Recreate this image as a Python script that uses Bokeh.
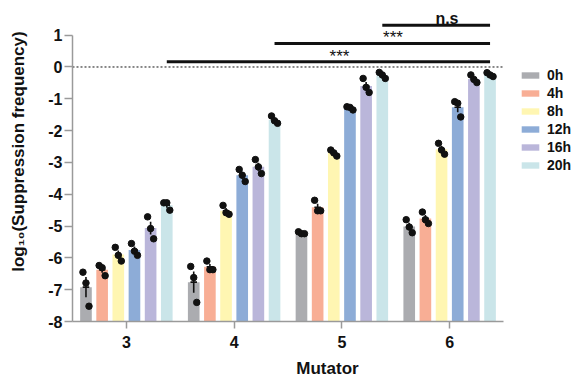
import numpy as np
from bokeh.plotting import figure
from bokeh.models import (ColumnDataSource, FixedTicker, Legend, LegendItem)
from bokeh.core.properties import value
from bokeh.embed import file_html
from bokeh.resources import INLINE

# ---------------- data ----------------
mutators = [3, 4, 5, 6]
hours = ["0h", "4h", "8h", "12h", "16h", "20h"]
colors = ["#ABACB0", "#F8AE95", "#FFF6B2", "#8DACD7", "#BAB6DA", "#CAE5E9"]
y_ticks = [-8, -7, -6, -5, -4, -3, -2, -1, 0, 1]
y_tick_labels = ["-8", "-7", "-6", "-5", "-4", "-3", "-2", "-1", "0", "1"]

# replicate log10(suppression frequency) per mutator (3, 4, 5, 6)
reps_0h = [[-6.45, -6.79, -7.52], [-6.27, -6.62, -7.40], [-5.18, -5.24, -5.24], [-4.80, -5.03, -5.21]]
reps_4h = [[-6.24, -6.31, -6.56], [-6.10, -6.37, -6.37], [-4.19, -4.52, -4.52], [-4.56, -4.80, -4.92]]
reps_8h = [[-5.67, -5.92, -6.10], [-4.35, -4.58, -4.63], [-2.61, -2.70, -2.80], [-2.40, -2.61, -2.74]]
reps_12h = [[-5.55, -5.79, -5.92], [-3.22, -3.40, -3.60], [-1.25, -1.27, -1.35], [-1.09, -1.14, -1.57]]
reps_16h = [[-4.71, -5.08, -5.40], [-2.91, -3.14, -3.35], [-0.36, -0.64, -0.80], [-0.25, -0.39, -0.49]]
reps_20h = [[-4.27, -4.27, -4.50], [-1.54, -1.69, -1.77], [-0.17, -0.25, -0.36], [-0.18, -0.25, -0.30]]
all_reps = [reps_0h, reps_4h, reps_8h, reps_12h, reps_16h, reps_20h]

# significance brackets: 20h of mutator X vs 20h of mutator 6
sig_from = [5, 4, 3]
sig_to = [6, 6, 6]
sig_text = ["n.s", "***", "***"]

# ---------------- layout / style ----------------
X_LO, X_HI = 2.5, 6.5
BAR_STEP = 0.15
BAR_W = 0.108
JIT = [-0.028, 0.0, 0.028]
SIG_Y = [1.314, 0.739, 0.163]
SIG_TEXT_Y = [1.52, 0.915, 0.335]
SIG_TEXT_DX = [0.10, 0.099, 0.103]
SIG_TEXT_SIZE = ["16px", "17px", "17px"]
FONT = "Liberation Sans"
INK = "#111111"

p = figure(width=582, height=380, x_range=(X_LO, 7.233), y_range=(-8, 2.09),
           output_backend="svg", toolbar_location=None,
           min_border_left=72, min_border_right=0, min_border_top=0, min_border_bottom=59)
p.outline_line_color = None
p.xgrid.visible = False
p.ygrid.visible = False
p.background_fill_color = None
p.border_fill_color = "white"

items = []
for i, (h, c, reps) in enumerate(zip(hours, colors, all_reps)):
    off = (i - 2.5) * BAR_STEP
    arr = np.array(reps)
    means = arr.mean(axis=1)
    sem = arr.std(axis=1, ddof=1) / np.sqrt(arr.shape[1])
    xs = [m + off for m in mutators]
    src = ColumnDataSource(dict(x=xs, top=means, lo=means - sem, hi=means + sem,
                                x0=[x - BAR_W * 0.28 for x in xs], x1=[x + BAR_W * 0.28 for x in xs]))
    r = p.vbar(x="x", top="top", bottom=-8, width=BAR_W, source=src, fill_color=c, line_color=None)
    p.segment(x0="x", y0="lo", x1="x", y1="hi", source=src, line_color=INK, line_width=1.6)
    p.segment(x0="x0", y0="top", x1="x1", y1="top", source=src, line_color=INK, line_width=1.6)
    px, py = [], []
    for gi, m in enumerate(mutators):
        for k, v in enumerate(reps[gi]):
            px.append(m + off + JIT[k])
            py.append(v)
    p.scatter(px, py, size=6.5, fill_color=INK, line_color=INK)
    items.append(LegendItem(label=h, renderers=[r]))

# dotted zero line (limited to the axis extent)
p.segment(x0=[X_LO], y0=[0], x1=[X_HI], y1=[0], line_color=INK, line_width=1, line_dash="2 2")

# significance brackets
half = 2.5 * BAR_STEP
for a, b, yv, t, ty, dx, ts in zip(sig_from, sig_to, SIG_Y, sig_text, SIG_TEXT_Y, SIG_TEXT_DX, SIG_TEXT_SIZE):
    x0, x1 = a + half, b + half
    p.segment(x0=[x0], y0=[yv], x1=[x1], y1=[yv], line_color=INK, line_width=3)
    p.text(x=[(x0 + x1) / 2 + dx], y=[ty], text=[t],
           text_align="center", text_baseline="alphabetic",
           text_font=value(FONT), text_font_style="bold" if t == "n.s" else "normal",
           text_font_size=ts, text_color=INK)

# axes
p.xaxis.ticker = FixedTicker(ticks=mutators)
p.xaxis.bounds = (X_LO, X_HI)
p.yaxis.ticker = FixedTicker(ticks=y_ticks)
p.yaxis.major_label_overrides = {t: l for t, l in zip(y_ticks, y_tick_labels)}
p.yaxis.bounds = (-8, 1)
for ax in (p.xaxis, p.yaxis):
    ax.axis_line_color = "#9a9a9a"
    ax.axis_line_width = 1.5
    ax.major_tick_line_color = "#9a9a9a"
    ax.major_tick_line_width = 1.5
    ax.major_tick_in = 0
    ax.minor_tick_line_color = None
    ax.major_label_text_font = FONT
    ax.major_label_text_font_style = "bold"
    ax.major_label_text_font_size = "16px"
    ax.major_label_text_color = INK
    ax.axis_label_text_font = FONT
    ax.axis_label_text_font_style = "bold"
    ax.axis_label_text_font_size = "17px"
    ax.axis_label_text_color = INK
p.yaxis.major_tick_out = 8
p.xaxis.major_tick_out = 7
p.yaxis.major_label_standoff = 2
p.xaxis.major_label_standoff = 7
p.xaxis.axis_label = "Mutator"
p.xaxis.axis_label_standoff = 8
p.yaxis.axis_label = "\u00a0" * 4 + "log\u2081\u2080(Suppression frequency)"
p.yaxis.axis_label_standoff = 17

legend = Legend(items=items, location=(447, 148), orientation="vertical")
legend.margin = 0
legend.padding = 0
legend.border_line_color = None
legend.background_fill_alpha = 0
legend.glyph_width = 22
legend.glyph_height = 8
legend.label_height = 12
legend.spacing = 2
legend.label_standoff = 6
legend.label_text_font = FONT
legend.label_text_font_style = "bold"
legend.label_text_font_size = "14px"
legend.label_text_color = INK
p.add_layout(legend, "center")

open("out.html", "w").write(file_html(p, INLINE))
